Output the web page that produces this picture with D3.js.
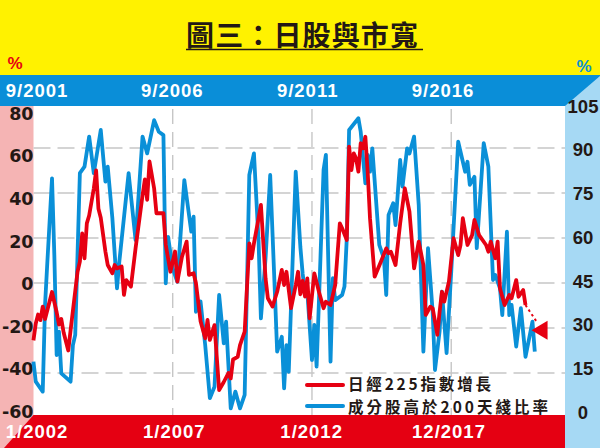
<!DOCTYPE html>
<html><head><meta charset="utf-8">
<script src="https://cdn.jsdelivr.net/npm/d3@7"></script>
<style>body{margin:0;background:#fff} svg{display:block}</style>
</head><body>
<script>
// ---------- data ----------
const titleText = "圖三：日股與市寬";
const topTickLabels = ["9/2001", "9/2006", "9/2011", "9/2016"];
const bottomTickLabels = ["1/2002", "1/2007", "1/2012", "12/2017"];
const gridMonths = [60, 120, 180];
const leftTicks = [80, 60, 40, 20, 0, -20, -40, -60];
const rightTicks = [105, 90, 75, 60, 45, 30, 15, 0];
const leftGrid = [60, 40, 20, 0, -20, -40];
const redName = "日經225指數增長";
const blueName = "成分股高於200天綫比率";

// month index counted from 1/2002 (bottom axis)
const redMonths = [0,1,2,3,4,5,6,8,10,11,12,13,15,16,19,20,21,22,23,24,26,27,28,29,31,32,34,35,36,38,39,40,42,44,47,48,49,50,52,53,56,57,59,61,62,64,66,67,69,70,72,74,75,76,78,80,82,84,85,86,88,89,91,93,94,95,97,98,100,101,103,105,107,108,109,111,113,114,115,116,117,118,119,121,123,125,126,128,130,132,133,135,136,137,138,139,140,141,142,143,144,145,147,150,152,153,154,156,158,160,162,164,166,168,169,171,172,174,175,176,177,179,181,183,184,185,187,189,190,192,195,196,197,199,200,201,203,205,206,208,209,211,212];
const redValues = [-25.5,-18,-14,-16.5,-10.5,-16,-12,-4,-13,-18.5,-16,-22,-30,-21,5,9.5,22,11,26.5,30,42,50,33,29,14,8,4.3,8,6.5,7.3,-5.3,1.3,-1.6,15.4,39,46,37,54,42,31,31,17,5,14,0.6,11.7,18.4,3.6,4.3,0,-17,-24.6,-16.4,-25.3,-18.7,-47.6,-44,-40,-42.4,-34,-32.8,-27.6,-21.6,17.6,11,17.6,28.8,34.7,2.1,-6.8,-10.5,-3.9,5.8,-0.9,5,-11.2,-0.9,5,-5,1,-6,2,-15.7,4.3,-3.9,-11.2,-8.3,-9.8,-0.9,26.5,24.3,19.1,60.6,50.2,57.6,55.4,49.5,62.1,59.9,65,49.5,28.8,2.8,10.2,15.4,13.2,13.9,8,26.5,42.1,31.7,6.5,18.4,8,-14.2,-10.5,-11.2,-23,-12.7,-3.9,-8.3,0.6,19.9,12.4,16.9,28.8,16.9,21.3,28,21.3,16.9,13.9,18.4,11,18.4,-2.4,-9.8,-5.3,-6.8,1.3,-6.1,-3.1,-9.8];
const redProjMonths = [212, 217];
const redProjValues = [-9.8, -17.5];
const markerMonth = 214.6;
const markerValue = -21;

// month index on the same grid (top axis starts 9/2001)
const blueMonths = [0,1,4,5,6,8,9,10,11,12,16,17,18,20,22,24,26,29,31,32,34,36,37,41,44,47,49,52,54,56,57,58,60,62,65,68,69,70,72,74,76,78,80,82,83,85,87,89,91,93,95,97,98,100,102,104,105,107,108,109,110,113,115,116,117,118,120,121,122,125,126,128,129,130,133,134,135,136,140,141,143,144,145,146,149,151,152,153,155,156,158,159,161,162,164,166,168,170,172,173,175,176,178,180,183,185,186,187,188,190,191,194,196,198,199,201,202,204,205,206,208,210,212,215,216];
const blueValues = [18.8,12.1,8.8,37.7,52.1,79.9,54.3,21,28.8,14.9,12.1,24.3,27.7,81.6,83.8,93.8,81.6,96,78.8,83.8,66.6,43.2,52.1,81.6,59.3,93.8,88.2,99.3,95.4,94.3,44.9,60.4,49.9,45.4,79.3,62.1,67.1,35.4,38.8,24.3,6.6,10.4,41,24.9,32.1,3.2,8.8,3.2,7.7,81,88.2,58.8,33.2,53.2,81,42.1,22.1,27.1,9.9,24.3,15.4,82.1,57,48,42,42,19.3,31,17.1,82.7,87.7,18.8,46.6,39.3,41,43.8,59.9,96,99.9,95.4,78.2,87.7,82.1,89.9,57.7,53.2,41,67.7,71.6,64.3,86,77.1,89.9,88.2,93.8,71,22.1,56.6,35.4,16,29,42.1,21.6,48.8,92.1,85.4,82.1,85.4,77.7,80.4,56.6,91.6,83.8,46,47.7,43.2,34.3,62.1,34.3,37.7,23.8,36.6,20.4,32.1,22.1];

// ---------- drawing ----------
const W = 600, H = 448;
const C = {yellow:"#fff200", blueBar:"#0a8ed8", rightPanel:"#a6d9f4", pink:"#f5b4b4",
           redBar:"#e50012", red:"#e60012", blue:"#0a90d8", grid:"#c6c6c6", ink:"#231815"};
const plotL = 33.5, plotR = 565, plotT = 106, plotB = 415;

const x = d3.scaleLinear().domain([0, 229]).range([33.45, 33.45 + 229 * 2.321]);
const yL = d3.scaleLinear().domain([-60, 80]).range([418, 103]);
const yR = d3.scaleLinear().domain([0, 105]).range([418, 103]);
const yLabL = d3.scaleLinear().domain([-60, 80]).range([411.5, 113.5]);
const yLabR = d3.scaleLinear().domain([0, 105]).range([412, 106]);
const xTop = d3.scalePoint().domain(topTickLabels).range([37, 443]);
const xBot = d3.scalePoint().domain(bottomTickLabels).range([37, 449]);

const svg = d3.select("body").append("svg").attr("width", W).attr("height", H);

// backgrounds
svg.append("rect").attr("x",0).attr("y",0).attr("width",W).attr("height",75).attr("fill",C.yellow);
svg.append("rect").attr("x",0).attr("y",75).attr("width",W).attr("height",plotT-75).attr("fill",C.blueBar);
svg.append("rect").attr("x",plotL).attr("y",plotT).attr("width",plotR-plotL).attr("height",plotB-plotT).attr("fill","#fff");
svg.append("rect").attr("x",0).attr("y",plotT).attr("width",plotL).attr("height",plotB-plotT).attr("fill",C.pink);
svg.append("rect").attr("x",0).attr("y",plotB).attr("width",plotR).attr("height",H-plotB).attr("fill",C.redBar);
svg.append("path").attr("d",`M0,${plotB}L${plotL},${plotB}L4,${H}L0,${H}Z`).attr("fill",C.pink);
svg.append("path").attr("d",`M${plotR},${plotT}L${W},76L${W},${H}L${plotR},${H}Z`).attr("fill",C.rightPanel);

// title
svg.append("text").attr("x",186).attr("y",45.5).attr("textLength",232).attr("lengthAdjust","spacing")
  .attr("font-family","'Noto Sans CJK TC','Noto Sans CJK SC',sans-serif").attr("font-weight",700)
  .attr("font-size",28).attr("fill",C.ink).text(titleText);
svg.append("line").attr("x1",186).attr("x2",423).attr("y1",49.5).attr("y2",49.5)
  .attr("stroke",C.ink).attr("stroke-width",1.3);

// unit labels
svg.append("text").attr("x",15).attr("y",69).attr("text-anchor","middle").attr("font-family","Liberation Sans, Arial, sans-serif")
  .attr("font-weight",700).attr("font-size",17).attr("fill",C.red).text("%");
svg.append("text").attr("x",584).attr("y",72).attr("text-anchor","middle").attr("font-family","Liberation Sans, Arial, sans-serif")
  .attr("font-weight",700).attr("font-size",17).attr("fill",C.blue).text("%");

// gridlines
const g = svg.append("g");
g.selectAll(".hg").data(leftGrid).join("line")
  .attr("x1",plotL).attr("x2",plotR).attr("y1",d=>yL(d)).attr("y2",d=>yL(d))
  .attr("stroke",C.grid).attr("stroke-width",1.4).attr("stroke-dasharray","17,7");
g.selectAll(".vg").data(gridMonths).join("line")
  .attr("x1",d=>x(d)).attr("x2",d=>x(d)).attr("y1",plotT+3).attr("y2",plotB)
  .attr("stroke",C.grid).attr("stroke-width",1.4).attr("stroke-dasharray","15,8");

// axis labels
svg.append("g").selectAll("text").data(topTickLabels).join("text")
  .attr("x",d=>xTop(d)).attr("y",97).attr("text-anchor","middle")
  .attr("font-family","Liberation Sans, Arial, sans-serif").attr("font-weight",700).attr("font-size",18.5)
  .attr("letter-spacing",1).attr("fill","#fff").text(d=>d);
svg.append("g").selectAll("text").data(bottomTickLabels).join("text")
  .attr("x",d=>xBot(d)).attr("y",437.5).attr("text-anchor","middle")
  .attr("font-family","Liberation Sans, Arial, sans-serif").attr("font-weight",700).attr("font-size",18.5)
  .attr("letter-spacing",1).attr("fill","#fff").text(d=>d);
svg.append("g").selectAll("text").data(leftTicks).join("text")
  .attr("x",33.5).attr("y",d=>yLabL(d)).attr("dy","0.36em").attr("text-anchor","end")
  .attr("font-family","DejaVu Sans, sans-serif").attr("font-weight",700).attr("font-size",17.5)
  .attr("fill",C.ink).text(d=>d);
svg.append("g").selectAll("text").data(rightTicks).join("text")
  .attr("x",583).attr("y",d=>yLabR(d)).attr("dy","0.36em").attr("text-anchor","middle")
  .attr("font-family","Liberation Sans, Arial, sans-serif").attr("font-weight",700).attr("font-size",18.5)
  .attr("fill",C.ink).text(d=>d);

// lines
const blueData = blueMonths.map((m,i)=>[m, blueValues[i]]);
const redData = redMonths.map((m,i)=>[m, redValues[i]]);
const projData = redProjMonths.map((m,i)=>[m, redProjValues[i]]);
const lineB = d3.line().x(d=>x(d[0])).y(d=>yR(d[1]));
const lineR = d3.line().x(d=>x(d[0])).y(d=>yL(d[1]));
svg.append("path").datum(blueData).attr("d",lineB).attr("fill","none")
  .attr("stroke",C.blue).attr("stroke-width",3.8).attr("stroke-linejoin","round");
svg.append("path").datum(redData).attr("d",lineR).attr("fill","none")
  .attr("stroke",C.red).attr("stroke-width",3.8).attr("stroke-linejoin","round");
svg.append("path").datum(projData).attr("d",lineR).attr("fill","none")
  .attr("stroke",C.red).attr("stroke-width",2).attr("stroke-dasharray","2.5,3");

// marker triangle
const mx = x(markerMonth), my = yL(markerValue);
svg.append("path").attr("d",`M${mx},${my}L${mx+16},${my-9.5}L${mx+16},${my+9.5}Z`).attr("fill",C.red);

// legend
const leg = [{name:redName,color:C.red,ly:385,ty:390,len:143},{name:blueName,color:C.blue,ly:406,ty:412.5,len:200}];
const lg = svg.append("g");
lg.selectAll("line").data(leg).join("line")
  .attr("x1",307).attr("x2",343).attr("y1",d=>d.ly).attr("y2",d=>d.ly)
  .attr("stroke",d=>d.color).attr("stroke-width",4).attr("stroke-linecap","round");
lg.selectAll("text").data(leg).join("text")
  .attr("x",348).attr("y",d=>d.ty).attr("textLength",d=>d.len).attr("lengthAdjust","spacing")
  .attr("font-family","'Noto Sans CJK TC','Noto Sans CJK SC',sans-serif").attr("font-weight",700)
  .attr("font-size",15.5).attr("fill",C.ink).text(d=>d.name);
</script>
</body></html>
